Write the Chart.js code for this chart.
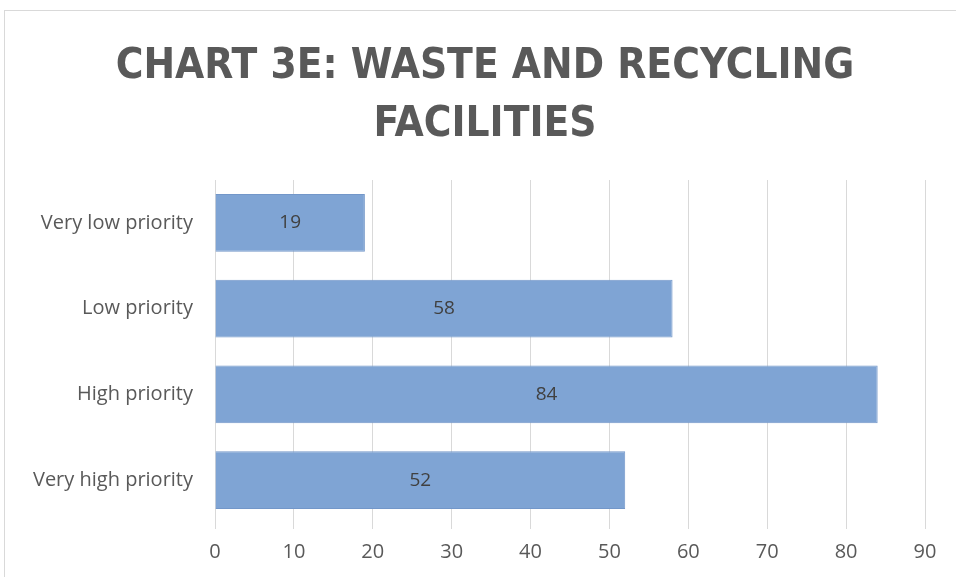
<!DOCTYPE html>
<html>
<head>
<meta charset="utf-8">
<script src="https://cdn.jsdelivr.net/npm/chart.js@4"></script>
<style>
  html, body { margin: 0; padding: 0; background: #fff; }
  #wrap { position: relative; width: 956px; height: 577px; }
  #frame {
    position: absolute; left: 4px; top: 10px; width: 1000px; height: 1000px;
    border-left: 1px solid #d9d9d9; border-top: 1px solid #d9d9d9;
    pointer-events: none;
  }
</style>
</head>
<body>
<div id="wrap">
  <canvas id="wasteChart" width="956" height="577"></canvas>
  <div id="frame"></div>
</div>
<script>
/// === DATA === ///
const categories = ['Very low priority', 'Low priority', 'High priority', 'Very high priority'];
const responses = [19, 58, 84, 52];
const tickValues = [0, 10, 20, 30, 40, 50, 60, 70, 80, 90];
const titleLines = ['CHART 3E: WASTE AND RECYCLING', 'FACILITIES'];

// the original title sits a bit right of the canvas centre, so draw it here
const chartTitle = {
  id: 'chartTitle',
  afterDraw(chart) {
    const ctx = chart.ctx;
    ctx.save();
    ctx.font = 'bold 42px "DejaVu Sans Condensed", sans-serif';
    ctx.fillStyle = '#595959';
    ctx.textAlign = 'center';
    ctx.textBaseline = 'alphabetic';
    titleLines.forEach((line, i) => {
      ctx.fillText(line, 485, 78 + i * 58);
    });
    ctx.restore();
  }
};

// draw the number in the middle of each bar
const barLabels = {
  id: 'barLabels',
  afterDatasetsDraw(chart) {
    const ctx = chart.ctx;
    ctx.save();
    ctx.font = '19px "Open Sans", sans-serif';
    ctx.fillStyle = '#404040';
    ctx.textAlign = 'center';
    ctx.textBaseline = 'middle';
    chart.getDatasetMeta(0).data.forEach((bar, i) => {
      ctx.fillText(responses[i], (bar.x + bar.base) / 2, bar.y);
    });
    ctx.restore();
  }
};

new Chart(
  document.getElementById('wasteChart'),
  {
    type: 'bar',
    data: {
      labels: categories,
      datasets: [
        {
          label: 'Responses',
          data: responses,
          backgroundColor: '#7fa4d4',
          borderColor: '#7397c9',
          borderWidth: 1,
          categoryPercentage: 1,
          barPercentage: 0.674
        }
      ]
    },
    options: {
      indexAxis: 'y',
      responsive: false,
      animation: false,
      layout: {
        padding: { left: 0, right: 31, top: 180, bottom: 2 }
      },
      plugins: {
        legend: { display: false },
        tooltip: { enabled: false },
        title: { display: false }
      },
      scales: {
        x: {
          min: 0,
          max: 90,
          afterBuildTicks: scale => {
            scale.ticks = tickValues.map(v => ({ value: v }));
          },
          grid: {
            color: '#d9d9d9',
            drawTicks: true,
            tickLength: 6
          },
          border: { display: false },
          ticks: {
            color: '#595959',
            font: { family: '"Open Sans", sans-serif', size: 20 },
            padding: 11
          }
        },
        y: {
          afterFit: scale => {
            scale.width = 215;
          },
          grid: { display: false, drawTicks: false },
          border: { display: true, color: '#d9d9d9' },
          ticks: {
            color: '#595959',
            font: { family: '"Open Sans", sans-serif', size: 20 },
            padding: 22
          }
        }
      }
    },
    plugins: [chartTitle, barLabels]
  }
);
</script>
</body>
</html>
